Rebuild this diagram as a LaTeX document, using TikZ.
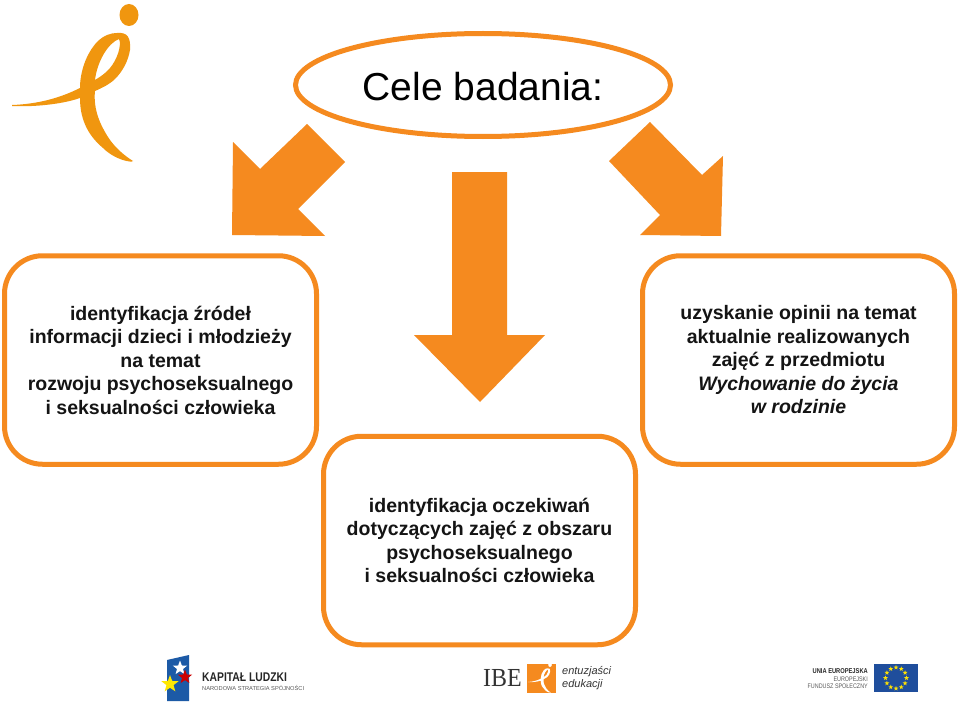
\documentclass[tikz,border=0pt]{standalone}
\usepackage{fontspec}
\setmainfont{Liberation Sans}
\newfontfamily\narrowsans[FakeStretch=0.82]{Liberation Sans}
\newfontfamily\narrowserif[FakeStretch=0.92]{Liberation Serif}
\usetikzlibrary{shapes.geometric}
\definecolor{org}{HTML}{F58A1F}
\definecolor{logo}{HTML}{F0960F}
\definecolor{ueblue}{HTML}{1F4E9C}
\definecolor{klblue}{HTML}{1C5AA6}
\tikzset{
 x=1pt,y=-1pt,
 box/.style={draw=org,line width=5pt,rounded corners=38pt,fill=white,minimum width=312pt,minimum height=208.5pt,align=center,font=\bfseries\fontsize{19.5pt}{23.5pt}\selectfont,text=black!92,inner sep=0pt},
 oval/.style={ellipse,draw=org,line width=5pt,fill=white,minimum width=375pt,minimum height=103pt,font=\fontsize{39pt}{44pt}\selectfont},
 blockarrow/.style={fill=org,draw=none},
 staricon/.style={star,star points=5,star point ratio=2.4,inner sep=0pt,draw=none},
 euicon/.style={staricon,fill=yellow!85!orange,minimum size=5pt},
 small/.style={inner sep=0pt,text=black},
 ibefig/.pic={
  \fill[pic actions,even odd rule] (12,105) .. controls (40,104) and (62,97) .. (80,88)
   .. controls (80,72) and (86,54) .. (97,42) .. controls (104,35) and (111,33) .. (117,33)
   .. controls (127,32) and (131,37) .. (130,50) .. controls (128,62) and (122,72) .. (115,79)
   .. controls (110,84) and (102,88) .. (95,91) .. controls (93,110) and (101,126) .. (108,137)
   .. controls (115,148) and (125,156) .. (133,161) .. controls (132,163) and (115,160) .. (103,148)
   .. controls (90,137) and (80,122) .. (80,98) .. controls (60,105) and (30,107) .. (12,106) -- cycle
   (95,80) .. controls (97,62) and (108,43) .. (119,39) .. controls (122,45) and (117,60) .. (110,68)
   .. controls (106,73) and (100,77) .. (95,80) -- cycle;
  \fill[pic actions] (129,15) ellipse [x radius=9.5,y radius=11];
 },
}
\begin{document}
\begin{tikzpicture}
\useasboundingbox (0,0) rectangle (960,706);
\fill[white] (0,0) rectangle (960,706);
% logo
\pic[fill=logo] at (0,0) {ibefig};
% arrows
\fill[blockarrow] (307,124) -- (345,162) -- (298,209) -- (325,236) -- (232,235) -- (233,142) -- (260,169) -- cycle;
\fill[blockarrow] (452,172) -- (507,172) -- (507,335) -- (545,335) -- (480,402) -- (414,335) -- (452,335) -- cycle;
\fill[blockarrow] (650,122) -- (702,175) -- (723,156) -- (721,236) -- (640,235) -- (660,215) -- (609,161) -- cycle;
% main shapes
\node[oval,text depth=0pt] (title) at (483,85) {\raisebox{-2.5pt}{Cele badania:}};
\node[box] (left) at (160.5,360) {identyfikacja źródeł\\informacji dzieci i młodzieży\\na temat\\rozwoju psychoseksualnego\\i seksualności człowieka};
\node[box] (mid) at (479.5,540.5) {identyfikacja oczekiwań\\dotyczących zajęć z obszaru\\psychoseksualnego\\i seksualności człowieka};
\node[box] (right) at (798.5,360) {uzyskanie opinii na temat\\aktualnie realizowanych\\zajęć z przedmiotu\\\textit{Wychowanie do życia}\\\textit{w rodzinie}};
% Kapital Ludzki
\fill[klblue] (167,660) -- (189,655) -- (189,701) -- (167,701) -- cycle;
\node[staricon,fill=white,minimum size=15pt] (s1) at (180,668) {};
\node[staricon,fill=red!80!black,minimum size=15pt] (s2) at (185,677) {};
\node[staricon,fill=yellow!90!orange,minimum size=18pt] (s3) at (170,684) {};
\node[small,anchor=west,font=\narrowsans\bfseries\fontsize{12.6pt}{13pt}\selectfont,text=black!85] (kl) at (202,677) {KAPITAŁ LUDZKI};
\node[small,anchor=west,font=\fontsize{5.7pt}{7pt}\selectfont,text=black!65] (nss) at (202,688) {NARODOWA STRATEGIA SPÓJNOŚCI};
% IBE
\node[small,anchor=west,font=\narrowserif\fontsize{26pt}{28pt}\selectfont,text=black!80] (ibe) at (483,678) {IBE};
\fill[org] (527,664) rectangle (556,693);
\pic[fill=white,scale=0.19] at (525.5,662) {ibefig};
\node[small,anchor=west,align=left,font=\itshape\fontsize{11pt}{13pt}\selectfont,text=black!80] (ee) at (562,678) {entuzjaści\\edukacji};
% EU
\node[small,anchor=east,font=\narrowsans\bfseries\fontsize{7pt}{8pt}\selectfont,text=black!85] (ue1) at (868,671) {UNIA EUROPEJSKA};
\node[small,anchor=east,font=\narrowsans\fontsize{6.6pt}{8pt}\selectfont,text=black!65] (ue2) at (868,679) {EUROPEJSKI};
\node[small,anchor=east,font=\narrowsans\fontsize{6.6pt}{8pt}\selectfont,text=black!65] (ue3) at (868,686) {FUNDUSZ SPOŁECZNY};
\fill[ueblue] (874,664) rectangle (918,692);
\foreach \a in {0,30,...,330}
 \node[euicon] at ({896+10.5*cos(\a)},{678+10.5*sin(\a)}) {};
\end{tikzpicture}
\end{document}
